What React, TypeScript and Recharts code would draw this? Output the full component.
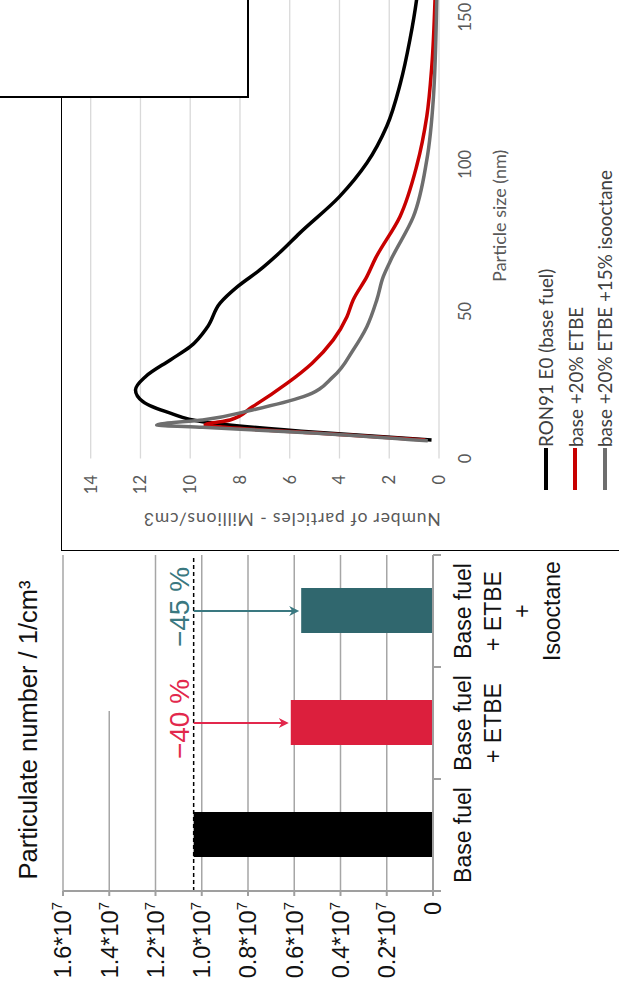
import React from "react";
import {
  BarChart,
  Bar,
  Cell,
  XAxis,
  YAxis,
  CartesianGrid,
  ReferenceLine,
  LineChart,
  Line,
  Legend,
} from "recharts";

// main bar chart
const categories = ["Base fuel", "Base fuel + ETBE", "Base fuel + ETBE + Isooctane"];
const categoryLines = [
  ["Base fuel"],
  ["Base fuel", "+ ETBE"],
  ["Base fuel", "+ ETBE", "+", "Isooctane"],
];
const particleNumbers = [1.035e7, 0.615e7, 0.57e7];
const barColors = ["#000000", "#dc1f3d", "#30676e"];
const valueTicks = [0, 0.2e7, 0.4e7, 0.6e7, 0.8e7, 1.0e7, 1.2e7, 1.4e7, 1.6e7];
const fullGridValues = [0.2e7, 0.4e7, 0.6e7, 0.8e7, 1.0e7, 1.2e7, 1.6e7];
const partialGridValue = 1.4e7;
const baseLevel = 1.035e7;
const reductionLabels = ["", "\u221240 %", "\u221245 %"];
const reductionColors = ["", "#e2284c", "#3a7880"];

// inset: size distribution
const sizeTicks = [0, 50, 100, 150];
const countTicks = [0, 2, 4, 6, 8, 10, 12, 14];
const ron91Base = [
  { size: 6.3, value: 0.3 },
  { size: 8.8, value: 4.8 },
  { size: 12.5, value: 9.5 },
  { size: 15.4, value: 10.8 },
  { size: 19.3, value: 11.9 },
  { size: 23.3, value: 12.2 },
  { size: 27.8, value: 11.8 },
  { size: 33.5, value: 10.8 },
  { size: 38, value: 10.0 },
  { size: 44.8, value: 9.3 },
  { size: 52.8, value: 8.8 },
  { size: 58.4, value: 8.1 },
  { size: 64.1, value: 7.2 },
  { size: 70, value: 6.4 },
  { size: 76.6, value: 5.6 },
  { size: 89, value: 4.0 },
  { size: 100.4, value: 2.9 },
  { size: 112.9, value: 2.1 },
  { size: 127.6, value: 1.55 },
  { size: 142.3, value: 1.17 },
  { size: 156, value: 0.9 },
  { size: 165, value: 0.78 },
];
const etbe20 = [
  { size: 6.3, value: 0.55 },
  { size: 8.6, value: 4.8 },
  { size: 10.5, value: 8.5 },
  { size: 11.4, value: 9.4 },
  { size: 13.1, value: 8.4 },
  { size: 17.6, value: 7.5 },
  { size: 25.6, value: 6.1 },
  { size: 32.4, value: 5.1 },
  { size: 40.3, value: 4.25 },
  { size: 48.2, value: 3.7 },
  { size: 53.9, value: 3.45 },
  { size: 61.8, value: 2.9 },
  { size: 68.1, value: 2.55 },
  { size: 82.2, value: 1.57 },
  { size: 99.3, value: 0.9 },
  { size: 116.3, value: 0.49 },
  { size: 133.3, value: 0.29 },
  { size: 156, value: 0.16 },
  { size: 165, value: 0.13 },
];
const etbe20Iso15 = [
  { size: 6.0, value: 0.45 },
  { size: 8.6, value: 4.9 },
  { size: 10.6, value: 9.5 },
  { size: 11.4, value: 11.35 },
  { size: 13.1, value: 9.5 },
  { size: 16.5, value: 7.5 },
  { size: 21, value: 5.45 },
  { size: 27.8, value: 4.25 },
  { size: 36.9, value: 3.45 },
  { size: 44.8, value: 2.9 },
  { size: 53.9, value: 2.5 },
  { size: 61.8, value: 2.24 },
  { size: 68.1, value: 1.9 },
  { size: 82.2, value: 1.03 },
  { size: 101.5, value: 0.49 },
  { size: 122, value: 0.23 },
  { size: 156, value: 0.09 },
  { size: 165, value: 0.07 },
];

const barData = categories.map((name, i) => ({ name, value: particleNumbers[i] }));

const ARIAL = "'Liberation Sans', Arial, sans-serif";
const LATO = "Lato, 'Open Sans', sans-serif";
const AXIS_GRAY = "#9f9f9f";

const ValueTick = ({ x, y, payload }: any) => {
  const v = payload.value;
  return (
    <text x={x} y={y} dy="0.36em" textAnchor="end" fontSize={23.5} fontFamily={ARIAL} fill="#111">
      {v === 0 ? (
        "0"
      ) : (
        <>
          {(v / 1e7).toFixed(1)}*10
          <tspan fontSize={15} dy={-9}>
            7
          </tspan>
        </>
      )}
    </text>
  );
};

const CategoryTick = ({ x, y, payload }: any) => {
  const idx = categories.indexOf(payload.value);
  const half = payload.offset > 0 ? payload.offset : 56;
  const lines = categoryLines[idx] ?? [payload.value];
  return (
    <g>
      <line x1={x - half} x2={x - half} y1={y - 8} y2={y} stroke={AXIS_GRAY} strokeWidth={2} />
      {idx === categories.length - 1 && (
        <line x1={x + half} x2={x + half} y1={y - 8} y2={y} stroke={AXIS_GRAY} strokeWidth={2} />
      )}
      <text textAnchor="middle" fontSize={23} fontFamily={ARIAL} fill="#111">
        {lines.map((l, i) => (
          <tspan key={i} x={x} y={y + 30 + i * 29.7}>
            {l}
          </tspan>
        ))}
      </text>
    </g>
  );
};

// 1.4*10^7 grid line only runs part of the way across in the source
const partialGrid = (props: any) => {
  const { x1, y1, x2, y2 } = props;
  return <line x1={x1} y1={y1} x2={x1 + (x2 - x1) * 0.536} y2={y2} stroke="#a6a6a6" strokeWidth={1.5} />;
};

const arrowShape = (label: string, color: string) => (props: any) => {
  const { x1, y1, x2, y2 } = props;
  const tip = y2 - 2;
  return (
    <g>
      <line x1={x1} y1={y1} x2={x2} y2={tip - 6} stroke={color} strokeWidth={2} />
      <path d={`M${x2 - 5},${tip - 10} L${x2},${tip} L${x2 + 5},${tip - 10} L${x2},${tip - 7} Z`} fill={color} />
      <text x={x1 + 4} y={y1 - 5} textAnchor="middle" fontSize={28} fontFamily={ARIAL} fill={color}>
        {label}
      </text>
    </g>
  );
};

const InsetLegend = ({ payload }: any) => (
  <div style={{ fontFamily: LATO }}>
    {(payload ?? []).map((e: any) => (
      <div key={e.value} style={{ display: "flex", alignItems: "center", height: 29.5 }}>
        <span style={{ display: "inline-block", width: 42, height: 4, background: e.color }} />
        <span style={{ fontSize: 18.8, color: "#404040", whiteSpace: "nowrap", marginLeft: 1 }}>{e.value}</span>
      </div>
    ))}
  </div>
);

const YTitle = ({ viewBox }: any) => {
  const cx = viewBox.x + 31;
  const cy = viewBox.y + viewBox.height / 2 + 27;
  return (
    <text
      x={cx}
      y={cy}
      textAnchor="middle"
      dominantBaseline="central"
      transform={`rotate(-90 ${cx} ${cy})`}
      fontSize={17.5}
      letterSpacing={0.9}
      fontFamily={LATO}
      fill="#595959"
    >
      Number of particles - Millions/cm3
    </text>
  );
};

const XTitle = ({ viewBox }: any) => {
  const cx = viewBox.x + viewBox.width / 2;
  const cy = viewBox.y + 60;
  return (
    <text x={cx} y={cy} textAnchor="middle" dominantBaseline="central" fontSize={18} fontFamily={LATO} fill="#595959">
      Particle size (nm)
    </text>
  );
};

export default function App() {
  return (
    <div style={{ position: "absolute", left: 0, top: 0, width: 619, height: 992, overflow: "hidden", background: "#fff" }}>
      <div
        style={{
          position: "absolute",
          left: 0,
          top: 0,
          width: 992,
          height: 619,
          background: "#fff",
          transformOrigin: "0 0",
          transform: "translate(0px, 992px) rotate(-90deg)",
        }}
      >
        <div
          style={{
            position: "absolute",
            left: 62,
            top: 15,
            width: 400,
            textAlign: "center",
            fontFamily: ARIAL,
            fontSize: 25.5,
            lineHeight: "26px",
            color: "#111",
            whiteSpace: "nowrap",
          }}
        >
          Particulate number / 1/cm³
        </div>

        <div style={{ position: "absolute", left: 0, top: 0 }}>
          <BarChart width={440} height={619} data={barData} margin={{ top: 63, right: 3, bottom: 0, left: 0 }}>
            <CartesianGrid
              vertical={false}
              horizontalValues={fullGridValues}
              stroke="#a6a6a6"
              strokeWidth={1.5}
            />
            <XAxis
              dataKey="name"
              height={186}
              tick={<CategoryTick />}
              tickLine={false}
              tickSize={8}
              tickMargin={0}
              interval={0}
              axisLine={{ stroke: AXIS_GRAY, strokeWidth: 2 }}
            />
            <YAxis
              width={101}
              domain={[0, 1.6e7]}
              ticks={valueTicks}
              interval={0}
              tick={<ValueTick />}
              tickSize={5}
              tickMargin={6}
              tickLine={{ stroke: AXIS_GRAY, strokeWidth: 2 }}
              axisLine={{ stroke: AXIS_GRAY, strokeWidth: 2 }}
            />
            <ReferenceLine y={partialGridValue} shape={partialGrid} />
            <Bar dataKey="value" barSize={45} isAnimationActive={false}>
              {barData.map((d, i) => (
                <Cell key={d.name} fill={barColors[i]} />
              ))}
            </Bar>
            <ReferenceLine y={baseLevel} stroke="#000" strokeWidth={1.5} strokeDasharray="4 3" />
            {barData.slice(1).map((d, j) => (
              <ReferenceLine
                key={d.name}
                segment={[
                  { x: d.name, y: baseLevel },
                  { x: d.name, y: d.value },
                ]}
                shape={arrowShape(reductionLabels[j + 1], reductionColors[j + 1])}
              />
            ))}
          </BarChart>
        </div>

        <div
          style={{
            position: "absolute",
            left: 441,
            top: 61,
            width: 600,
            height: 600,
            background: "#fff",
            borderLeft: "1.5px solid #000",
            borderTop: "1.5px solid #000",
          }}
        />
        <div style={{ position: "absolute", left: 442, top: 62 }}>
          <LineChart width={577} height={557} margin={{ top: 28.7, right: 0, bottom: 0, left: 0 }}>
            <CartesianGrid vertical={false} stroke="#d9d9d9" strokeWidth={1.3} />
            <XAxis
              type="number"
              dataKey="size"
              domain={[0, 165]}
              ticks={sizeTicks}
              allowDataOverflow
              height={180}
              axisLine={false}
              tickLine={false}
              tickSize={0}
              tickMargin={20}
              tick={{ fontSize: 16.5, fontFamily: LATO, fill: "#595959" }}
              label={XTitle}
            />
            <YAxis
              type="number"
              domain={[0, 14]}
              ticks={countTicks}
              width={91.5}
              axisLine={false}
              tickLine={false}
              tickSize={0}
              tickMargin={16.5}
              tick={{ fontSize: 16.5, fontFamily: LATO, fill: "#595959" }}
              label={YTitle}
            />
            <Line
              data={ron91Base}
              dataKey="value"
              name="RON91 E0 (base fuel)"
              type="monotone"
              stroke="#000000"
              strokeWidth={3.5}
              dot={false}
              isAnimationActive={false}
            />
            <Line
              data={etbe20}
              dataKey="value"
              name="base +20% ETBE"
              type="monotone"
              stroke="#c80000"
              strokeWidth={3.5}
              dot={false}
              isAnimationActive={false}
            />
            <Line
              data={etbe20Iso15}
              dataKey="value"
              name="base +20% ETBE +15% isooctane"
              type="monotone"
              stroke="#6e6e6e"
              strokeWidth={3.5}
              dot={false}
              isAnimationActive={false}
            />
            <Legend
              layout="vertical"
              align="center"
              verticalAlign="middle"
              content={<InsetLegend />}
              wrapperStyle={{ left: 60, top: 469, width: 500, height: 90 }}
            />
          </LineChart>
        </div>

        <div
          style={{
            position: "absolute",
            left: 893.5,
            top: -5,
            width: 120,
            height: 252,
            background: "#fff",
            borderLeft: "2.7px solid #000",
            borderBottom: "2.7px solid #000",
          }}
        />
      </div>
    </div>
  );
}
